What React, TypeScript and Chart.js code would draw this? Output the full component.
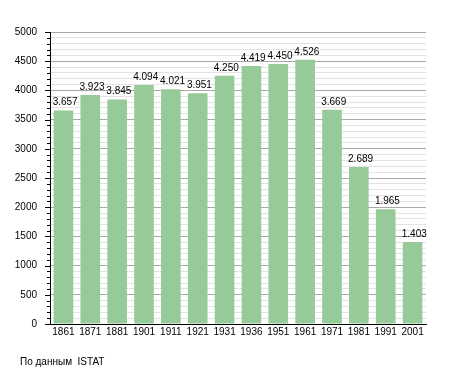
import React, { useEffect, useRef } from "react";
import { Chart, registerables } from "chart.js";

Chart.register(...registerables);

const years = ["1861", "1871", "1881", "1901", "1911", "1921", "1931", "1936", "1951", "1961", "1971", "1981", "1991", "2001"];
const population = [3657, 3923, 3845, 4094, 4021, 3951, 4250, 4419, 4450, 4526, 3669, 2689, 1965, 1403];
const yMax = 5000;
const yStep = 100;
const yLabelStep = 500;
const sourceNote = "По данным  ISTAT";

const FONT = "'Liberation Sans', Arial, sans-serif";

const fmt = (v: number) => String(v).replace(/\B(?=(\d{3})+(?!\d))/g, ".");

const extrasPlugin = {
  id: "extras",
  afterDatasetsDraw(chart: any) {
    const ctx = chart.ctx;
    const meta = chart.getDatasetMeta(0);
    ctx.save();
    ctx.font = `10px ${FONT}`;
    ctx.fillStyle = "#000";
    ctx.textAlign = "left";
    ctx.textBaseline = "alphabetic";
    meta.data.forEach((bar: any, i: number) => {
      const v = chart.data.datasets[0].data[i];
      ctx.fillText(fmt(v), bar.x - bar.width / 2 - 1, bar.y - 5);
    });
    // tick marks on y axis
    const y = chart.scales.y;
    const left = chart.chartArea.left;
    ctx.strokeStyle = "#000";
    ctx.lineWidth = 1;
    for (let v = 0; v <= yMax; v += yStep) {
      const py = Math.round(y.getPixelForValue(v)) + 0.5;
      const len = v % yLabelStep === 0 ? 5 : 3;
      ctx.beginPath();
      ctx.moveTo(left - len, py);
      ctx.lineTo(left, py);
      ctx.stroke();
    }
    // source note
    ctx.font = `10px ${FONT}`;
    ctx.textBaseline = "middle";
    ctx.fillText(sourceNote, 20, 362);
    ctx.restore();
  },
};

export default function App() {
  const ref = useRef<HTMLCanvasElement>(null);
  useEffect(() => {
    document.body.style.margin = "0";
    const canvas = ref.current!;
    const chart = new Chart(canvas, {
      type: "bar",
      data: {
        labels: years,
        datasets: [
          {
            data: population,
            backgroundColor: "#96ca98",
            borderWidth: 0,
            barPercentage: 0.73,
            categoryPercentage: 1,
          },
        ],
      },
      options: {
        animation: false,
        responsive: false,
        events: [],
        layout: { padding: { top: 32, right: 29, left: 0, bottom: 0 } },
        plugins: { legend: { display: false }, tooltip: { enabled: false } },
        scales: {
          x: {
            grid: { display: false, drawTicks: false },
            border: { display: true, color: "#000", width: 1 },
            ticks: {
              color: "#000",
              font: { family: FONT, size: 10 },
              padding: 2,
              autoSkip: false,
              maxRotation: 0,
            },
            afterFit: (s: any) => {
              s.height = 49;
            },
          },
          y: {
            min: 0,
            max: yMax,
            grid: {
              drawTicks: false,
              color: (c: any) => (c.tick && c.tick.value % yLabelStep === 0 ? "#a8a8a8" : "#e3e3e3"),
            },
            border: { display: true, color: "#000", width: 1 },
            ticks: {
              stepSize: yStep,
              maxTicksLimit: 100,
              autoSkip: false,
              color: "#000",
              padding: 13,
              font: { family: FONT, size: 10 },
              callback: (v: any) => (Number(v) % yLabelStep === 0 ? String(v) : ""),
            },
            afterFit: (s: any) => {
              s.width = 50;
            },
          },
        },
      },
      plugins: [extrasPlugin],
    });
    return () => chart.destroy();
  }, []);
  return <canvas ref={ref} width={455} height={373} style={{ display: "block" }} />;
}
